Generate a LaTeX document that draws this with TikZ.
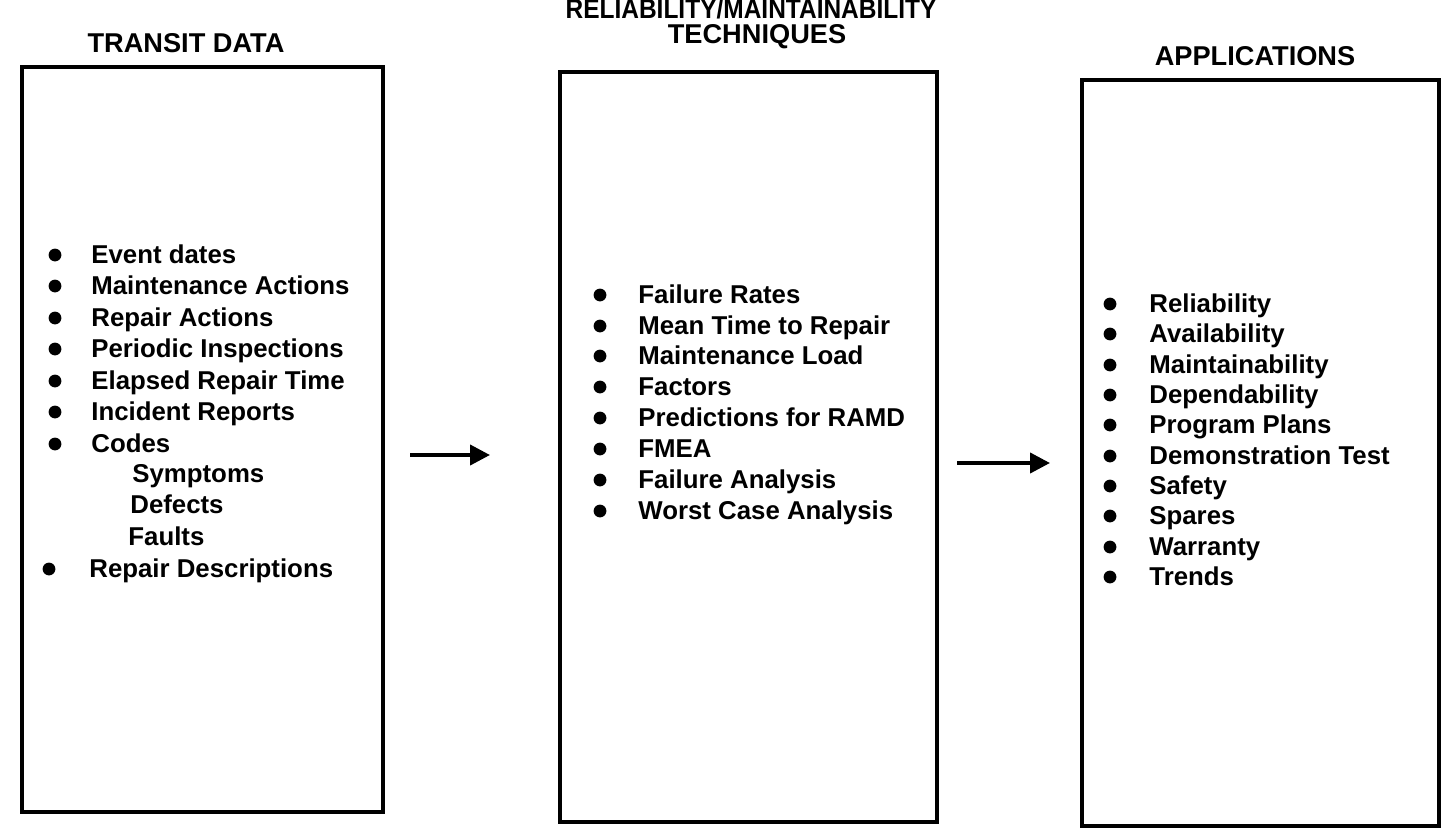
\documentclass[tikz,border=0pt]{standalone}
\usepackage{fontspec}
\setmainfont{Liberation Sans}
\usetikzlibrary{arrows.meta}
\begin{document}
\begin{tikzpicture}[x=0.5pt,y=-0.5pt,
  panel/.style={draw, line width=2pt, inner sep=0pt},
  heading/.style={font=\fontsize{13.6}{15}\selectfont\bfseries, anchor=base, inner sep=0pt},
  item/.style={font=\fontsize{12.9}{14}\selectfont\bfseries, anchor=base west, inner sep=0pt},
  dot/.style={circle, fill, inner sep=0pt, minimum size=6.4pt},
  flow/.style={line width=2pt, -{Triangle[length=10pt,width=10pt]}}]
\useasboundingbox (0,0) rectangle (1443,829);

% panels
\node[panel, minimum width=180.5pt, minimum height=372.5pt] (data) at (202.5,439.5) {};
\node[panel, minimum width=188.5pt, minimum height=375pt] (tech) at (748.5,447) {};
\node[panel, minimum width=178.5pt, minimum height=373pt] (appl) at (1260.5,453) {};

% headings
\node[heading] (h1) at (186,53) {TRANSIT DATA};
\node[heading] (h2a) at (751,19) {\scalebox{0.9}[1]{RELIABILITY/MAINTAINABILITY}};
\node[heading] (h2b) at (757,44) {TECHNIQUES};
\node[heading] (h3) at (1255,66) {APPLICATIONS};

% transit data list
\foreach \t/\y [count=\i] in {Event dates/263, Maintenance Actions/294, Repair Actions/326,
  Periodic Inspections/357, Elapsed Repair Time/389, Incident Reports/420, Codes/452} {
  \node[dot] (d\i) at (55,\y-8) {};
  \node[item] (t\i) at (91,\y) {\t};
}
\node[item] (sym) at (132,482) {Symptoms};
\node[item] (def) at (130,513) {Defects};
\node[item] (flt) at (128,545) {Faults};
\node[dot] (d8) at (49,569) {};
\node[item] (t8) at (89,577) {Repair Descriptions};

% techniques list
\foreach \t/\y [count=\i] in {Failure Rates/303, Mean Time to Repair/334, Maintenance Load/364,
  Factors/395, Predictions for RAMD/426, FMEA/457, Failure Analysis/488, Worst Case Analysis/519} {
  \node[dot] (e\i) at (600,\y-8) {};
  \node[item] (u\i) at (638,\y) {\t};
}

% applications list
\foreach \t/\y [count=\i] in {Reliability/312, Availability/342, Maintainability/373,
  Dependability/403, Program Plans/433, Demonstration Test/464, Safety/494, Spares/524,
  Warranty/555, Trends/585} {
  \node[dot] (f\i) at (1110,\y-8) {};
  \node[item] (v\i) at (1149,\y) {\t};
}

% flow arrows between panels
\coordinate (a1s) at (410,455);
\coordinate (a1e) at (490,455);
\coordinate (a2s) at (957,463);
\coordinate (a2e) at (1050,463);
\draw[flow] (a1s) -- (a1e);
\draw[flow] (a2s) -- (a2e);
\end{tikzpicture}
\end{document}
